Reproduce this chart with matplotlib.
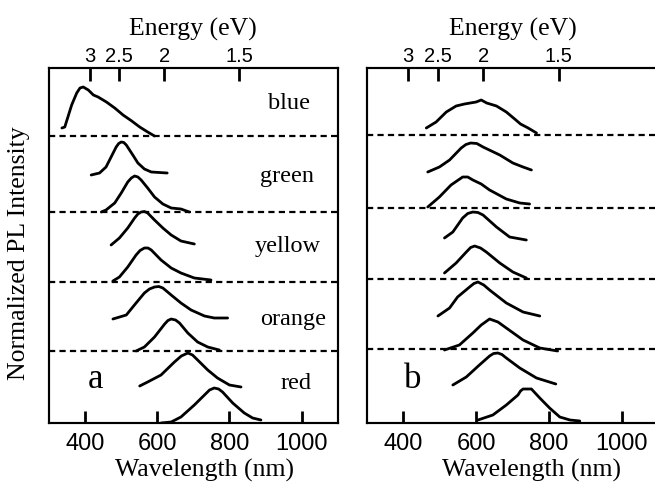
import matplotlib
matplotlib.use("Agg")
import matplotlib.pyplot as plt

# offset spectra, y in arbitrary stacked units (0 = bottom of panel, 355 = top)
# panel a
a_blue_wl = [337, 345, 364, 378, 387, 396, 410, 424, 437, 460, 483, 506, 530, 552, 574, 593]
a_blue_y = [295, 296, 318, 330, 335, 336, 333, 328, 326, 321, 315, 308, 302, 296, 291, 287]
a_green1_wl = [418, 441, 459, 473, 487, 494, 501, 508, 515, 533, 547, 565, 584, 628]
a_green1_y = [248, 250, 256, 266, 276, 279.5, 281, 280.5, 278, 268, 260, 254, 251, 250]
a_green2_wl = [446, 459, 483, 501, 519, 529, 538, 547, 556, 574, 593, 616, 639, 666, 689]
a_green2_y = [211, 213, 220, 230, 241, 245, 247, 246, 243, 235, 226, 219, 215, 214, 211]
a_yellow1_wl = [473, 496, 519, 538, 547, 556, 565, 574, 593, 616, 639, 666, 703]
a_yellow1_y = [178, 185, 195, 205, 209, 211, 211.5, 210, 203, 195, 188, 182, 179]
a_yellow2_wl = [478, 496, 519, 542, 553, 565, 575, 584, 611, 639, 666, 703, 749]
a_yellow2_y = [142, 146, 156, 168, 172.5, 175, 175, 173, 163, 155, 150, 145, 143]
a_orange1_wl = [478, 515, 542, 565, 579, 593, 605, 616, 639, 666, 694, 731, 758, 795]
a_orange1_y = [104, 108, 120, 130, 134, 136, 136.5, 135, 128, 120, 113, 107, 105, 105]
a_orange2_wl = [542, 565, 593, 621, 630, 639, 651, 662, 685, 712, 740, 772]
a_orange2_y = [72, 76, 86, 99, 102.5, 104, 103, 100, 90, 81, 76, 73]
a_red1_wl = [552, 574, 611, 648, 667, 685, 698, 712, 740, 767, 800, 832]
a_red1_y = [37, 41, 48, 61, 67, 70, 68, 63, 53, 45, 38, 36]
a_red2_wl = [611, 639, 666, 703, 731, 745, 758, 770, 781, 809, 841, 864, 887]
a_red2_y = [0, 1, 6, 18, 28, 33, 35, 34, 31, 20, 10, 5, 3]

# panel b
b_blue_wl = [463, 490, 518, 545, 568, 600, 614, 629, 656, 683, 706, 722, 743, 766]
b_blue_y = [295, 301, 311, 317, 319, 321, 323, 320, 317, 311, 304, 299, 295, 290]
b_green1_wl = [467, 499, 527, 559, 572, 585, 602, 619, 665, 701, 729, 752]
b_green1_y = [251, 256, 263, 275, 278.5, 280, 279.5, 276, 268, 260, 256, 253]
b_green2_wl = [467, 499, 531, 563, 577, 591, 614, 637, 683, 720, 747]
b_green2_y = [216, 226, 238, 246, 246, 243, 239, 233, 224, 220, 219]
b_yellow1_wl = [513, 536, 563, 577, 591, 605, 619, 656, 692, 738]
b_yellow1_y = [185, 191, 205, 209.5, 211, 210.5, 208, 196, 186, 183]
b_yellow2_wl = [513, 545, 573, 585, 596, 612, 628, 665, 701, 738]
b_yellow2_y = [150, 160, 171, 175.5, 177, 175, 171, 160, 151, 145]
b_orange1_wl = [495, 527, 549, 582, 594, 605, 621, 637, 683, 729, 775]
b_orange1_y = [107, 115, 126, 136, 139.5, 141, 138, 133, 120, 111, 107]
b_orange2_wl = [513, 554, 591, 614, 637, 660, 683, 729, 775, 824]
b_orange2_y = [73, 78, 90, 98, 104, 101, 95, 83, 75, 72]
b_red1_wl = [536, 573, 609, 637, 648, 660, 671, 683, 720, 766, 819]
b_red1_y = [38, 46, 58, 67, 69.5, 70, 68.5, 65, 55, 45, 39]
b_red2_wl = [605, 646, 683, 715, 722, 729, 752, 775, 802, 830, 858, 885]
b_red2_y = [3, 8, 18, 28, 32, 34, 34, 25, 15, 6, 3, 2]

a_dash = [287, 211, 141, 72]
b_dash = [288, 215, 144, 74]

names = ["blue", "green", "yellow", "orange", "red"]
energy_ticks = [3, 2.5, 2, 1.5]
energy_labels = ["3", "2.5", "2", "1.5"]
wl_ticks = [400, 600, 800, 1000]

a_curves = [(a_blue_wl, a_blue_y), (a_green1_wl, a_green1_y), (a_green2_wl, a_green2_y),
            (a_yellow1_wl, a_yellow1_y), (a_yellow2_wl, a_yellow2_y),
            (a_orange1_wl, a_orange1_y), (a_orange2_wl, a_orange2_y),
            (a_red1_wl, a_red1_y), (a_red2_wl, a_red2_y)]
b_curves = [(b_blue_wl, b_blue_y), (b_green1_wl, b_green1_y), (b_green2_wl, b_green2_y),
            (b_yellow1_wl, b_yellow1_y), (b_yellow2_wl, b_yellow2_y),
            (b_orange1_wl, b_orange1_y), (b_orange2_wl, b_orange2_y),
            (b_red1_wl, b_red1_y), (b_red2_wl, b_red2_y)]

serif = "Liberation Serif"
sans = "Liberation Sans"
plt.rcParams["font.family"] = serif
plt.rcParams["axes.linewidth"] = 1.5

fig = plt.figure(figsize=(6.55, 4.82), dpi=100)
ax_a = fig.add_axes([48.5 / 655, 59 / 482, 289.5 / 655, 355 / 482])
ax_b = fig.add_axes([367 / 655, 59 / 482, 291 / 655, 355 / 482])

for ax, curves, dash in [(ax_a, a_curves, a_dash), (ax_b, b_curves, b_dash)]:
    for wl, y in curves:
        ax.plot(wl, y, color="black", lw=2.0, solid_joinstyle="round", solid_capstyle="round")
    for d in dash:
        ax.axhline(d, color="black", lw=1.6, linestyle=(0, (2.8, 1.9)))
    ax.set_xlim(300, 1100)
    ax.set_ylim(0, 355)
    ax.set_yticks([])

    # energy scale on top: E = 1240 / wavelength
    top = ax.twiny()
    top.set_xlim(ax.get_xlim())
    top.set_xticks([1240.0 / e for e in energy_ticks])
    top.set_xticklabels(energy_labels, family=sans)
    top.tick_params(axis="x", top=True, bottom=False, direction="in",
                    length=9, width=2, labelsize=14.5, pad=1.5)
    top.set_xlabel("Energy (eV)", fontsize=18.5, labelpad=8)

    ax.set_xticks(wl_ticks)
    ax.set_xticklabels([str(t) for t in wl_ticks], family=sans)
    ax.xaxis.tick_bottom()
    ax.tick_params(axis="x", which="major", bottom=True, top=False, direction="in",
                   length=9, width=2, color="black", labelsize=17, pad=7)
    ax.set_xlabel("Wavelength (nm)", fontsize=18.5)

ax_a.xaxis.set_label_coords(0.54, -0.10)
ax_b.xaxis.set_label_coords(0.567, -0.10)

ax_a.set_ylabel("Normalized PL Intensity", fontsize=18.5)
ax_a.yaxis.set_label_coords(-0.064, 0.479)

label_x = [0.831, 0.824, 0.827, 0.845, 0.855]
label_y = [0.885, 0.679, 0.482, 0.276, 0.096]
for name, lx, ly in zip(names, label_x, label_y):
    ax_a.text(lx, ly, name, transform=ax_a.transAxes, ha="center", va="baseline", fontsize=17.5)

ax_a.text(0.164, 0.099, "a", transform=ax_a.transAxes, ha="center", va="baseline", fontsize=25)
ax_b.text(0.158, 0.099, "b", transform=ax_b.transAxes, ha="center", va="baseline", fontsize=25)

fig.savefig("out.png", dpi=100)
